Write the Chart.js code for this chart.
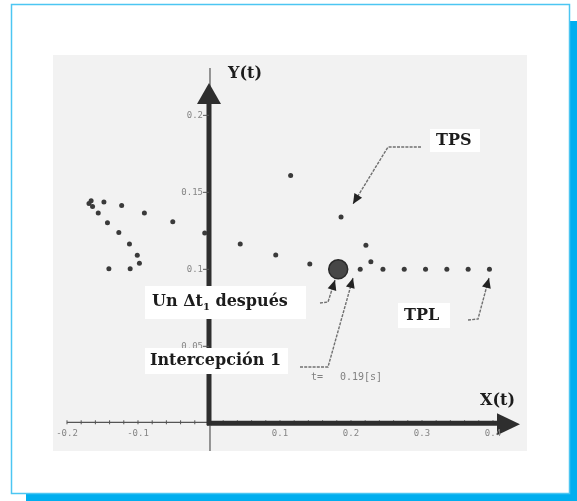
<!DOCTYPE html>
<html>
<head>
<meta charset="utf-8">
<script src="https://cdn.jsdelivr.net/npm/chart.js@4.4.1/dist/chart.umd.min.js"></script>
<style>
  html, body { margin: 0; padding: 0; background: #ffffff; }
  #wrap { position: relative; width: 577px; height: 501px; }
  canvas { display: block; }
</style>
</head>
<body>
<div id="wrap"><canvas id="c" width="577" height="501"></canvas></div>
<script>
// Trayectoria de puntos dispersos (TPS)
const tpsX = [-0.166, -0.169, -0.164, -0.148, -0.123, -0.156, -0.091, -0.143, -0.051, -0.127,
              -0.006, -0.112, 0.044, 0.094, -0.101, -0.098, -0.141, -0.111, 0.115, 0.186,
              0.221, 0.142, 0.213, 0.228];
const tpsY = [0.1445, 0.1428, 0.1408, 0.1437, 0.1414, 0.1366, 0.1366, 0.1303, 0.1309, 0.1239,
              0.1236, 0.1164, 0.1164, 0.1093, 0.1091, 0.1040, 0.1004, 0.1004, 0.1610, 0.1340,
              0.1156, 0.1034, 0.1000, 0.1049];
// Trayectoria de puntos lineal (TPL)
const tplX = [0.245, 0.275, 0.305, 0.335, 0.365, 0.395];
const tplY = [0.100, 0.100, 0.100, 0.100, 0.100, 0.100];
// Punto de intercepción
const hitX = [0.182];
const hitY = [0.100];
// Marcas de los ejes
const xTickVals = [-0.2, -0.1, 0.1, 0.2, 0.3, 0.4];
const xTickLabels = ['-0.2', '-0.1', '0.1', '0.2', '0.3', '0.4'];
const yTickVals = [0.05, 0.1, 0.15, 0.2];
const yTickLabels = ['0.05', '0.1', '0.15', '0.2'];

const pts = (xs, ys) => xs.map((x, i) => ({ x: x, y: ys[i] }));

const INK = '#2e2e2e';
const BLUE = '#00aeef';

function arrowHead(ctx, fx, fy, tx, ty, len, half) {
  const a = Math.atan2(ty - fy, tx - fx);
  ctx.beginPath();
  ctx.moveTo(tx, ty);
  ctx.lineTo(tx - len * Math.cos(a) + half * Math.sin(a), ty - len * Math.sin(a) - half * Math.cos(a));
  ctx.lineTo(tx - len * Math.cos(a) - half * Math.sin(a), ty - len * Math.sin(a) + half * Math.cos(a));
  ctx.closePath();
  ctx.fill();
}

function leader(ctx, path) {
  ctx.save();
  ctx.strokeStyle = '#707070';
  ctx.lineWidth = 1.4;
  ctx.setLineDash([3, 1.2]);
  ctx.beginPath();
  ctx.moveTo(path[0][0], path[0][1]);
  for (let i = 1; i < path.length; i++) ctx.lineTo(path[i][0], path[i][1]);
  ctx.stroke();
  ctx.setLineDash([]);
  ctx.fillStyle = '#222';
  const n = path.length;
  arrowHead(ctx, path[n - 2][0], path[n - 2][1], path[n - 1][0], path[n - 1][1], 10, 4.5);
  ctx.restore();
}

function whiteBox(ctx, x0, y0, x1, y1) {
  ctx.fillStyle = '#ffffff';
  ctx.fillRect(x0, y0, x1 - x0, y1 - y0);
}

const scenePlugin = {
  id: 'scene',
  beforeDraw(chart) {
    const ctx = chart.ctx;
    const a = chart.chartArea;
    ctx.save();
    ctx.fillStyle = '#ffffff';
    ctx.fillRect(0, 0, chart.width, chart.height);
    // sombra azul del marco
    ctx.fillStyle = BLUE;
    ctx.fillRect(570, 21, 7, 480);
    ctx.fillRect(26, 494, 551, 7);
    // marco
    ctx.fillStyle = '#ffffff';
    ctx.fillRect(11, 4, 559, 490);
    ctx.strokeStyle = '#4cc6f2';
    ctx.lineWidth = 1.5;
    ctx.strokeRect(11.5, 4.5, 558, 489);
    // fondo del área de trazado
    ctx.fillStyle = '#f2f2f2';
    ctx.fillRect(a.left, a.top, a.right - a.left, a.bottom - a.top);
    ctx.restore();
  },
  beforeDatasetsDraw(chart) {
    const ctx = chart.ctx;
    const xs = chart.scales.x, ys = chart.scales.y;
    const x0 = xs.getPixelForValue(0), y0 = ys.getPixelForValue(0);
    const xL = xs.getPixelForValue(-0.2), xR = xs.getPixelForValue(0.4);
    ctx.save();
    // eje X: tramo fino a la izquierda
    ctx.strokeStyle = '#555';
    ctx.lineWidth = 1.2;
    ctx.beginPath();
    ctx.moveTo(xL, y0 - 1);
    ctx.lineTo(x0, y0 - 1);
    ctx.stroke();
    // marcas menores del eje X
    ctx.lineWidth = 1;
    for (let k = -10; k <= 20; k++) {
      const px = xs.getPixelForValue(k * 0.02);
      ctx.beginPath();
      ctx.moveTo(px, y0 - 3);
      ctx.lineTo(px, y0 + 1);
      ctx.stroke();
    }
    // eje X grueso con flecha
    ctx.strokeStyle = INK;
    ctx.lineWidth = 5;
    ctx.beginPath();
    ctx.moveTo(x0 - 2, y0);
    ctx.lineTo(xR + 4, y0);
    ctx.stroke();
    ctx.fillStyle = INK;
    ctx.beginPath();
    ctx.moveTo(xR + 27, y0 + 1);
    ctx.lineTo(xR + 4, y0 - 10);
    ctx.lineTo(xR + 4, y0 + 12);
    ctx.closePath();
    ctx.fill();
    // eje Y: línea fina completa y tramo grueso
    ctx.strokeStyle = '#555';
    ctx.lineWidth = 1.2;
    ctx.beginPath();
    ctx.moveTo(x0 + 1, 68);
    ctx.lineTo(x0 + 1, chart.chartArea.bottom);
    ctx.stroke();
    ctx.strokeStyle = INK;
    ctx.lineWidth = 5;
    ctx.beginPath();
    ctx.moveTo(x0, 100);
    ctx.lineTo(x0, y0 + 2);
    ctx.stroke();
    ctx.beginPath();
    ctx.moveTo(x0, 83);
    ctx.lineTo(x0 - 12, 104);
    ctx.lineTo(x0 + 12, 104);
    ctx.closePath();
    ctx.fill();
    // marcas y etiquetas del eje Y
    ctx.fillStyle = '#858585';
    ctx.strokeStyle = '#555';
    ctx.lineWidth = 1;
    ctx.font = '9px "DejaVu Sans Mono"';
    ctx.textAlign = 'right';
    ctx.textBaseline = 'middle';
    yTickVals.forEach((v, i) => {
      const py = ys.getPixelForValue(v);
      ctx.beginPath();
      ctx.moveTo(x0 - 6, py);
      ctx.lineTo(x0, py);
      ctx.stroke();
      ctx.fillText(yTickLabels[i], x0 - 6, py);
    });
    // etiquetas del eje X
    ctx.textAlign = 'center';
    ctx.textBaseline = 'middle';
    xTickVals.forEach((v, i) => {
      ctx.fillText(xTickLabels[i], xs.getPixelForValue(v), y0 + 10);
    });
    ctx.restore();
  },
  afterDatasetsDraw(chart) {
    const ctx = chart.ctx;
    ctx.save();
    // recuadros blancos de los rótulos
    whiteBox(ctx, 145, 286, 306, 319);
    whiteBox(ctx, 145, 348, 288, 374);
    whiteBox(ctx, 430, 129, 480, 152);
    whiteBox(ctx, 398, 303, 450, 328);

    ctx.fillStyle = '#1c1c1c';
    ctx.textBaseline = 'middle';
    ctx.textAlign = 'left';
    ctx.font = 'bold 16px "DejaVu Serif"';
    ctx.fillText('Y(t)', 228, 74);
    ctx.fillText('X(t)', 480, 401);
    ctx.fillText('TPS', 436, 141);
    ctx.fillText('TPL', 404, 316);
    ctx.fillText('Intercepción 1', 150, 361);
    // "Un Δt₁ después"
    let tx = 152;
    ctx.fillText('Un Δt', tx, 302);
    tx += ctx.measureText('Un Δt').width;
    ctx.font = 'bold 10px "DejaVu Serif"';
    ctx.fillText('1', tx, 307);
    tx += ctx.measureText('1').width;
    ctx.font = 'bold 16px "DejaVu Serif"';
    ctx.fillText(' después', tx, 302);

    // tiempo de intercepción
    ctx.fillStyle = '#808080';
    ctx.font = '10px "DejaVu Sans Mono"';
    ctx.fillText('t=', 311, 377);
    ctx.fillText('0.19[s]', 340, 377);

    // flechas indicadoras
    leader(ctx, [[421, 147], [388, 147], [353, 204]]);
    leader(ctx, [[320, 303], [328, 302], [335, 280]]);
    leader(ctx, [[300, 367], [328, 367], [353, 278]]);
    leader(ctx, [[468, 320], [478, 319], [489, 278]]);
    ctx.restore();
  }
};

new Chart(document.getElementById('c'), {
  type: 'scatter',
  data: {
    datasets: [
      { label: 'TPS', data: pts(tpsX, tpsY), pointRadius: 2.5, backgroundColor: '#3a3a3a', borderWidth: 0 },
      { label: 'TPL', data: pts(tplX, tplY), pointRadius: 2.5, backgroundColor: '#3a3a3a', borderWidth: 0 },
      { label: 'Intercepción', data: pts(hitX, hitY), pointRadius: 9.5, backgroundColor: '#474747',
        borderColor: '#2a2a2a', borderWidth: 1.5 }
    ]
  },
  options: {
    responsive: false,
    animation: false,
    devicePixelRatio: 1,
    layout: { padding: { left: 53, right: 50, top: 55, bottom: 50 } },
    plugins: { legend: { display: false }, tooltip: { enabled: false } },
    scales: {
      x: { type: 'linear', min: -0.2197, max: 0.4479, display: false },
      y: { type: 'linear', min: -0.0180, max: 0.2392, display: false }
    }
  },
  plugins: [scenePlugin]
});
</script>
</body>
</html>
